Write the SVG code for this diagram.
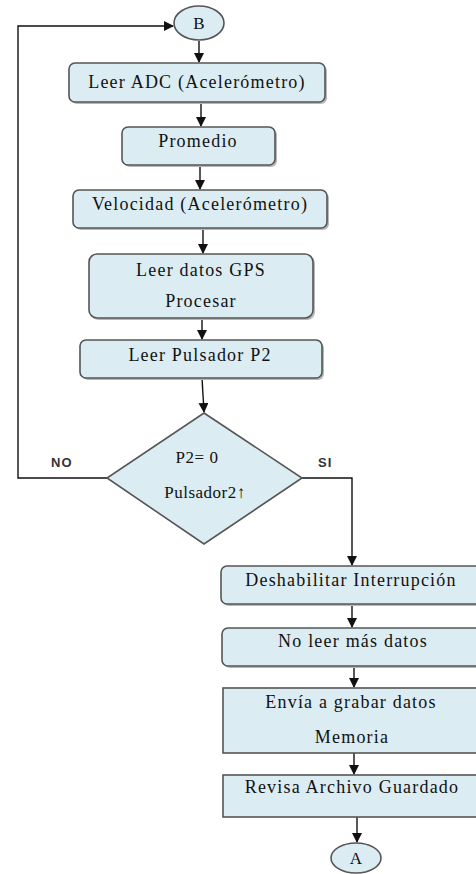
<svg xmlns="http://www.w3.org/2000/svg" width="476" height="874" viewBox="0 0 476 874">
<style>
.box{fill:#dbedf3;stroke:#555;stroke-width:1.6}
.sh{fill:#b8b8b8}
.t{font-family:"Liberation Serif","Times New Roman",serif;font-size:18px;fill:#111;text-anchor:middle;letter-spacing:1.2px}
.td{font-family:"Liberation Serif","Times New Roman",serif;font-size:17px;fill:#111;text-anchor:middle;letter-spacing:0.5px}
.lbl{font-family:"Liberation Sans",Arial,sans-serif;font-size:13px;font-weight:bold;fill:#333;letter-spacing:1px}
.c{fill:none;stroke:#111;stroke-width:1.4}
</style>
<defs>
<marker id="ah" markerWidth="10" markerHeight="10" refX="9" refY="5" orient="auto" markerUnits="userSpaceOnUse">
<path d="M0,0 L10,5 L0,10 Z" fill="#111"/>
</marker>
</defs>
<g id="connectors">
<line class="c" x1="199" y1="41" x2="199" y2="62" marker-end="url(#ah)"/>
<line class="c" x1="201" y1="102" x2="201" y2="126" marker-end="url(#ah)"/>
<line class="c" x1="200" y1="165" x2="200" y2="189" marker-end="url(#ah)"/>
<line class="c" x1="203" y1="228" x2="203" y2="253" marker-end="url(#ah)"/>
<line class="c" x1="202" y1="318" x2="202" y2="339" marker-end="url(#ah)"/>
<line class="c" x1="202" y1="378" x2="204" y2="412" marker-end="url(#ah)"/>
<polyline class="c" points="302,478 352,478 352,565" marker-end="url(#ah)"/>
<line class="c" x1="352" y1="604" x2="352" y2="627" marker-end="url(#ah)"/>
<line class="c" x1="354" y1="666" x2="354" y2="687" marker-end="url(#ah)"/>
<line class="c" x1="354" y1="753" x2="354" y2="774" marker-end="url(#ah)"/>
<line class="c" x1="357" y1="817" x2="357" y2="842" marker-end="url(#ah)"/>
<polyline class="c" points="107,478 18,478 18,26 173,26" marker-end="url(#ah)"/>
<text class="lbl" x="51" y="467">NO</text>
<text class="lbl" x="318" y="467">SI</text>
</g>
<g id="B">
<ellipse class="box" cx="199" cy="23" rx="25" ry="17"/>
<text class="t" x="199" y="29" style="font-size:17px;letter-spacing:0">B</text>
</g>
<g id="leer-adc">
<rect class="sh" x="71" y="65" width="256" height="39" rx="6"/>
<rect class="box" x="69" y="63" width="256" height="39" rx="6"/>
<text class="t" x="197" y="88">Leer ADC (Acelerómetro)</text>
</g>
<g id="promedio">
<rect class="sh" x="124" y="129" width="153" height="38" rx="6"/>
<rect class="box" x="122" y="127" width="153" height="38" rx="6"/>
<text class="t" x="198" y="147">Promedio</text>
</g>
<g id="velocidad">
<rect class="sh" x="75" y="192" width="254" height="38" rx="6"/>
<rect class="box" x="73" y="190" width="254" height="38" rx="6"/>
<text class="t" x="200" y="210">Velocidad (Acelerómetro)</text>
</g>
<g id="gps">
<rect class="sh" x="91" y="256" width="224" height="64" rx="8"/>
<rect class="box" x="89" y="254" width="224" height="64" rx="8"/>
<text class="t" x="201" y="276">Leer datos GPS</text>
<text class="t" x="201" y="307">Procesar</text>
</g>
<g id="pulsador">
<rect class="sh" x="82" y="342" width="242" height="38" rx="6"/>
<rect class="box" x="80" y="340" width="242" height="38" rx="6"/>
<text class="t" x="200" y="361">Leer Pulsador P2</text>
</g>
<g id="decision">
<polygon class="box" points="204,413 302,478 204,544 107,478"/>
<text class="td" x="197" y="463">P2= 0</text>
<text class="td" x="205" y="498">Pulsador2↑</text>
</g>
<g id="deshabilitar">
<rect class="sh" x="223" y="568" width="262" height="38" rx="6"/>
<rect class="box" x="221" y="566" width="262" height="38" rx="6"/>
<text class="t" x="351" y="586">Deshabilitar Interrupción</text>
</g>
<g id="no-leer">
<rect class="sh" x="224" y="630" width="262" height="38" rx="6"/>
<rect class="box" x="222" y="628" width="262" height="38" rx="6"/>
<text class="t" x="353" y="647">No leer más datos</text>
</g>
<g id="envia">
<rect class="box" x="223" y="688" width="262" height="65"/>
<text class="t" x="351" y="708">Envía a grabar datos</text>
<text class="t" x="352" y="743">Memoria</text>
</g>
<g id="revisa">
<rect class="box" x="223" y="775" width="262" height="42"/>
<text class="t" x="352" y="793">Revisa Archivo Guardado</text>
</g>
<g id="A">
<ellipse class="box" cx="356" cy="858" rx="25" ry="15"/>
<text class="t" x="356" y="864" style="font-size:17px;letter-spacing:0">A</text>
</g>
</svg>
